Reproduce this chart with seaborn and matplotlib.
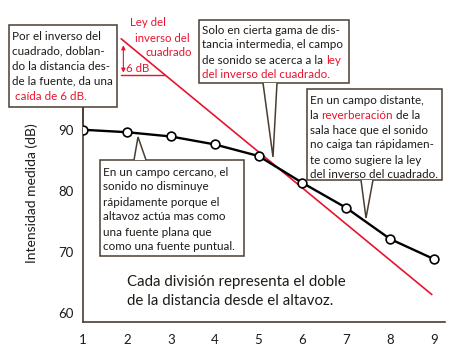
import matplotlib
matplotlib.use('Agg')
import matplotlib.pyplot as plt
import matplotlib.patches as mpatches
import matplotlib.lines as mlines
from matplotlib.text import Annotation
import seaborn as sns
import pandas as pd

sns.set_style('white')
plt.rcParams['font.family'] = ['Lato', 'DejaVu Sans']

# measured intensity at each doubling of distance
division = [1, 2, 3, 4, 5, 6, 7, 8, 9]
intensity_db = [90.0, 89.6, 88.9, 87.6, 85.7, 81.3, 77.2, 72.1, 68.8]

# inverse square reference line (-6 dB per division)
law_x = [1.87, 8.95]
law_y = [104.9, 63.0]

RED = '#e8142e'
EDGE = '#4a3d30'
INK = '#1e1a16'

W, H = 451, 356
fig = plt.figure(figsize=(W / 100, H / 100), dpi=100)
ax = fig.add_axes([83 / W, 1 - 322 / H, (445 - 83) / W, (322 - 26) / H])

df = pd.DataFrame({'division': division, 'dB': intensity_db})
sns.lineplot(x=law_x, y=law_y, ax=ax, color=RED, lw=1.2)
sns.lineplot(data=df, x='division', y='dB', ax=ax, color='black', lw=1.7,
             marker='o', markersize=6.3, markerfacecolor='white',
             markeredgecolor='black', markeredgewidth=1.2, zorder=5)

# 6 dB marker
ax.plot([law_x[0], law_x[0] + 1], [law_y[0] - 6, law_y[0] - 6], color=RED, lw=1)
ax.annotate('', xy=(law_x[0] + 0.05, law_y[0] - 6), xytext=(law_x[0] + 0.05, law_y[0] - 0.6),
            arrowprops=dict(arrowstyle='<|-|>', color=RED, lw=0.8, mutation_scale=6))
ax.text(law_x[0] + 0.12, law_y[0] - 4.8, '6 dB', color=RED, fontsize=8.3, va='center')

ax.set_xlim(1, 9.25)
ax.set_ylim(58.5, 107)
ax.set_xticks(division)
ax.set_yticks([60, 70, 80, 90])
for s in ['top', 'right']:
    ax.spines[s].set_visible(False)
for s in ['left', 'bottom']:
    ax.spines[s].set_color(EDGE)
    ax.spines[s].set_linewidth(1.2)
ax.tick_params(axis='x', direction='in', length=4, pad=9, labelsize=9.5, colors=EDGE, labelcolor=INK)
ax.tick_params(axis='y', direction='out', length=4, pad=3, labelsize=9.5, colors=EDGE, labelcolor=INK)
ax.set_xlabel('')
ax.set_ylabel('Intensidad medida (dB)', fontsize=10, color=INK)
ax.yaxis.set_label_coords(-0.125, 0.436)


def fx(x):
    return x / W


def fy(y):
    return 1 - y / H


def box(x0, y0, x1, y1, tail=None):
    fig.patches.append(mpatches.Rectangle((fx(x0), fy(y1)), fx(x1 - x0), y1 / H - y0 / H,
                                          transform=fig.transFigure, fc='white',
                                          ec=EDGE, lw=1.1, zorder=10))
    if tail:
        (ax_, ay), (bx, by), (tx, ty) = tail
        fig.patches.append(mpatches.Polygon([(fx(ax_), fy(ay)), (fx(tx), fy(ty)), (fx(bx), fy(by))],
                                            closed=False, transform=fig.transFigure,
                                            fc='white', ec=EDGE, lw=1.1, zorder=11))


def rich(x, y, rows, size=8.4, step=15):
    # each row is a list of (text, colour) pieces placed one after another
    for i, row in enumerate(rows):
        prev = None
        for seg, col in row:
            if prev is None:
                prev = fig.text(fx(x), fy(y + i * step), seg, color=col, fontsize=size,
                                va='center', ha='left', zorder=12)
            else:
                prev = Annotation(seg, xy=(1, 0), xycoords=prev, va='bottom', ha='left',
                                  color=col, fontsize=size, zorder=12)
                fig.add_artist(prev)


K = INK
# top-left box
box(9, 25, 117, 107)
fig.lines.append(mlines.Line2D([fx(83), fx(83)], [fy(107), fy(125)], color=EDGE, lw=1.1,
                               transform=fig.transFigure, zorder=9))
rich(12, 36, [[('Por el inverso del', K)], [('cuadrado, doblan-', K)],
              [('do la distancia des-', K)], [('de la fuente, da una', K)],
              [(' caída de 6 dB.', RED)]])

# red law label
fig.text(fx(130), fy(23), 'Ley del', color=RED, fontsize=8.2, va='center')
fig.text(fx(135), fy(38), 'inverso del', color=RED, fontsize=8.2, va='center')
fig.text(fx(145), fy(53), 'cuadrado', color=RED, fontsize=8.2, va='center')

# middle top box
box(199, 20, 349, 83, tail=((263, 83), (277, 83), (273, 157)))
rich(202, 30, [[('Solo en cierta gama de dis-', K)], [('tancia intermedia, el campo', K)],
               [('de sonido se acerca a la ', K), ('ley', RED)],
               [('del inverso del cuadrado.', RED)]])

# right box
box(307, 89, 442, 180, tail=((361, 180), (373, 180), (366, 218)))
rich(310, 100, [[('En un campo distante,', K)],
                [('la ', K), ('reverberación', RED), (' de la', K)],
                [('sala hace que el sonido', K)], [('no caiga tan rápidamen-', K)],
                [('te como sugiere la ley', K)], [('del inverso del cuadrado.', K)]])

# near-field box
box(100, 160, 244, 256, tail=((134, 160), (146, 160), (138, 137)))
rich(103, 172, [[('En un campo cercano, el', K)], [('sonido no disminuye', K)],
                [('rápidamente porque el', K)], [('altavoz actúa mas como', K)],
                [('una fuente plana que', K)], [('como una fuente puntual.', K)]])

fig.text(fx(127), fy(282), 'Cada división representa el doble', fontsize=10.8, color=INK, va='center')
fig.text(fx(127), fy(301), 'de la distancia desde el altavoz.', fontsize=10.8, color=INK, va='center')

fig.savefig('out.png', dpi=100)
